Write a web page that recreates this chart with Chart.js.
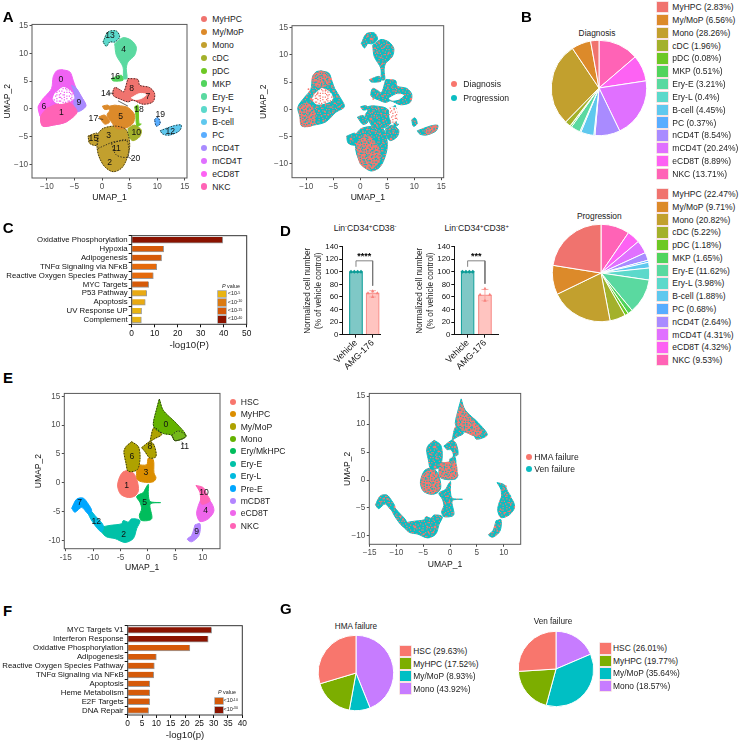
<!DOCTYPE html>
<html>
<head>
<meta charset="utf-8">
<script src="https://cdn.jsdelivr.net/npm/chart.js@4"></script>
<style>
  html, body { margin: 0; padding: 0; background: #fff; }
  #page { position: relative; width: 739px; height: 740px; overflow: hidden; font-family: "Liberation Sans", Arial, sans-serif; }
  #page canvas { position: absolute; }
  .t { position: absolute; white-space: nowrap; line-height: 1; color: #222; z-index: 3; }
  .t sup { font-size: 68%; line-height: 0; vertical-align: baseline; position: relative; top: -0.4em; }
  .sw { position: absolute; z-index: 3; }
</style>
</head>
<body>
<div id="page"></div>
<script>
// ---- labels and colours
const cellTypes14 = ['MyHPC', 'My/MoP', 'Mono', 'cDC', 'pDC', 'MKP', 'Ery-E', 'Ery-L', 'B-cell', 'PC', 'nCD4T', 'mCD4T', 'eCD8T', 'NKC']
const colors14 = ['#F0736E', '#DC8A2A', '#C2A02E', '#A3B12B', '#6DC824', '#52D45D', '#5AD9A0', '#5CD9CB', '#5FC8EE', '#59ADFF', '#A98BFF', '#E070FF', '#FD62F3', '#FF63B6']
const cellTypes11 = ['HSC', 'MyHPC', 'My/MoP', 'Mono', 'Ery/MkHPC', 'Ery-E', 'Ery-L', 'Pre-E', 'mCD8T', 'eCD8T', 'NKC']
const colors11 = ['#F8766D', '#DB8E00', '#AEA200', '#64B200', '#00BD5C', '#00C1A7', '#00BADE', '#00A6FF', '#B385FF', '#EF67EB', '#FF63B6']
const salmon = '#F8766D'
const teal = '#0CBDC2'

// ---- pies
const diagnosisPct = [2.83, 6.56, 28.26, 1.96, 0.08, 0.51, 3.21, 0.4, 4.45, 0.37, 8.54, 20.24, 8.89, 13.71]
const progressionPct = [22.47, 9.71, 20.82, 5.22, 1.18, 1.65, 11.62, 3.98, 1.88, 0.68, 2.64, 4.31, 4.32, 9.53]
const failureTypes = ['HSC', 'MyHPC', 'My/MoP', 'Mono']
const failureColors = ['#F8766D', '#7CAE00', '#00BFC4', '#C77CFF']
const hmaPct = [29.63, 17.52, 8.93, 43.92]
const venPct = [26.01, 19.77, 35.64, 18.57]

// ---- enrichment bars
const pathwaysC = ['Oxidative Phosphorylation', 'Hypoxia', 'Adipogenesis', 'TNFα Signaling via NFκB', 'Reactive Oxygen Species Pathway', 'MYC Targets', 'P53 Pathway', 'Apoptosis', 'UV Response UP', 'Complement']
const valuesC = [39.6, 13.9, 13, 10.9, 9.4, 7.4, 6.5, 5.9, 4.3, 4.2]
const colorsC = ['#8B1300', '#D55A0A', '#D55A0A', '#E56A0C', '#E56A0C', '#D55A0A', '#E8AA14', '#E8AA14', '#E8B414', '#E8B414']
const pathwaysF = ['MYC Targets V1', 'Interferon Response', 'Oxidative Phosphorylation', 'Adipogenesis', 'Reactive Oxygen Species Pathway', 'TNFα Signaling via NFκB', 'Apoptosis', 'Heme Metabolism', 'E2F Targets', 'DNA Repair']
const valuesF = [29.3, 28.1, 21.7, 10, 9.3, 9.1, 7.7, 7.7, 7.7, 7.3]
const colorsF = ['#8B1300', '#8B1300', '#D55A0A', '#D55A0A', '#D55A0A', '#D55A0A', '#D55A0A', '#D55A0A', '#D55A0A', '#D55A0A']
const ticksC = [0, 10, 20, 30, 40, 50]
const ticksF = [0, 5, 10, 15, 20, 25, 30, 35, 40]

// ---- cell number bars
const treatments = ['Vehicle', 'AMG-176']
const ticksD = [0, 20, 40, 60, 80, 100, 120, 140]
const barsLeft = [100, 66.5]
const barsRight = [100, 63.5]
const vehiclePts = [[-0.3, 100], [-0.1, 100], [0.1, 100], [0.3, 100]]
const amgPtsLeft = [[1, 69], [0.72, 66], [1.28, 66], [1, 60]]
const amgPtsRight = [[1, 73], [0.72, 63.5], [1.28, 63.5], [1, 54]]
const errLeft = [60, 70]
const errRight = [54, 72]

// ---- umap ticks
const umapTicks = [-10, -5, 0, 5, 10, 15]
const umapTicksE = [-15, -10, -5, 0, 5, 10]
const umapTicksEy = [-10, -5, 0, 5, 10, 15]

// ---- panel A outlines in UMAP units
const aTcell = [[-7.35, 7.07], [-5.84, 6.65], [-5.24, 5.15], [-4.76, 3.83], [-3.73, 2.16], [-2.95, 0.48], [-4.52, -0.54], [-6.45, -2.34], [-8.86, -2.93], [-10.78, -3.11], [-11.14, -1.44], [-11.57, 0.36], [-10.36, 2.16], [-9.16, 3.65], [-8.86, 5.75], [-8.25, 6.83]]
const aNk1 = [[-10.06, 0.06], [-7.95, 0.96], [-6.14, 1.26], [-4.52, -0.54], [-6.45, -2.34], [-8.86, -2.93], [-10.78, -3.11], [-11.14, -1.44]]
const aC9 = [[-5.54, 4.25], [-4.76, 3.83], [-3.73, 2.16], [-2.95, 0.48], [-4.52, -0.54], [-5.12, 0.96], [-4.94, 2.46]]
const aC6 = [[-11.57, 0.36], [-10.36, 2.16], [-9.16, 1.56], [-10.06, 0.06], [-11.14, -1.44]]
const aHole = [[-8.55, 2.75], [-7.05, 3.83], [-5.54, 3.05], [-5.12, 1.86], [-6.14, 1.26], [-7.95, 0.96], [-8.86, 1.68]]
const aRed = [[4.7, 5.45], [6.51, 5.27], [6.81, 4.25], [8.61, 3.83], [9.52, 2.75], [9.22, 1.26], [7.41, 0.84], [5.6, 1.56], [4.7, 1.26], [3.49, 1.68], [1.99, 2.46], [2.29, 3.83], [3.19, 3.47], [3.92, 3.05]]
const aRedGap = [[5.3, 1.98], [6.81, 2.75], [8.01, 2.57], [7.11, 1.86], [5.9, 1.68]]
const aC5 = [[2.29, 0.66], [4.4, 0.36], [5.3, -0.24], [5.9, -1.14], [5.6, -2.63], [4.1, -3.53], [2.59, -3.53], [1.69, -2.34], [0.9, -1.14], [1.39, -0.24], [1.08, 0.36]]
const aC17 = [[-0.54, -1.44], [0.48, -1.14], [1.39, -2.34], [0.48, -2.75]]
const aBit = [[0.06, 0.48], [1.08, 0.66], [1.39, 0.06], [0.48, -0.12]]
const aMono = [[-0.72, -4.43], [0.18, -3.53], [2.29, -3.11], [4.1, -3.53], [4.7, -4.43], [5, -6.83], [4.4, -9.22], [3.49, -10.72], [1.99, -11.32], [0.48, -10.42], [-0.54, -8.62], [-0.9, -6.83]]
const aC15 = [[-2.53, -4.91], [-0.9, -4.43], [-0.9, -6.53], [-2.23, -6.23]]
const aC10 = [[4.7, -3.53], [5.9, -2.93], [7.11, -3.83], [6.81, -5.03], [5.6, -5.75], [4.88, -5.03]]
const aC4 = [[2.29, 11.74], [3.8, 12.81], [5.3, 12.34], [6.2, 11.14], [5.9, 9.64], [4.7, 8.44], [4.4, 7.25], [4.52, 5.45], [3.92, 5.45], [3.8, 7.54], [2.59, 9.64]]
const aC13 = [[0.18, 12.04], [1.08, 13.83], [2.59, 14.01], [3.19, 12.93], [2.29, 12.04], [1.39, 12.04], [0.78, 11.26]]
const aC16 = [[1.69, 5.45], [3.49, 6.05], [3.8, 5.15], [1.99, 5.03]]
const aC18 = [[5.9, 0.36], [6.51, 0.66], [6.69, -2.63], [7.11, -2.75], [6.33, -3.11], [6.08, -0.54]]
const aC12 = [[10.54, -3.95], [12.83, -3.11], [14.34, -2.93], [14.04, -3.95], [12.23, -4.73], [11.02, -4.55]]
const aC19 = [[9.52, -1.92], [10.12, -1.56], [10.54, -2.63], [9.82, -3.11]]
const aC11 = [[1.69, -6.23], [4.4, -5.63], [4.7, -8.62], [2.59, -8.32]]
const aSplit = [[-0.72, -7.13], [1.99, -5.93], [4.7, -5.63]]
const aSplitRed = [[2.89, 1.44], [4.7, 0.48]]
const aLead14 = [[1.0, 2.81], [2.1, 2.81]]
const aLead17 = [[-0.7, -1.74], [0.2, -1.92]]
const aLead20 = [[4.7, -8.62], [5.3, -9.04]]
const aLabels = [['0', -7.47, 5.33], ['1', -7.35, -0.66], ['6', -10.54, 0.48], ['9', -4.22, 1.2], ['13', 1.45, 13.1], ['4', 3.92, 10.66], ['16', 2.41, 5.75], ['8', 5.36, 3.71], ['7', 8.31, 2.28], ['14', 0.66, 2.81], ['18', 6.69, -0.18], ['5', 3.37, -1.32], ['17', -1.57, -1.74], ['19', 10.54, -1.02], ['12', 12.35, -4.19], ['10', 6.2, -4.31], ['3', 1.2, -4.85], ['15', -1.57, -5.33], ['11', 2.59, -7.25], ['20', 6.08, -9.04], ['2', 1.39, -9.7]]

// panel A right: where one condition dominates
const progPatchTop = [[-7.16, 7.03], [-5.93, 6.3], [-5.62, 4.89], [-7.47, 4.04], [-8.83, 4.77], [-8.7, 6.3]]
const progPatchLow = [[-11.3, 0.49], [-9.63, 1.1], [-8.4, -0.73], [-8.7, -2.87], [-10.86, -3.06], [-11.17, -1.35]]
const progPatchMono = [[-0.68, -6.24], [1.17, -4.71], [3.33, -6.85], [3.64, -9.3], [1.79, -11], [-0.06, -9.91]]
const progPatchB = [[11.9, -3.9], [13.2, -3.1], [14.2, -3.1], [13.9, -3.9], [12.3, -4.6]]
const progGap = [[5.5, 0.4], [6.6, 0.2], [6.8, -2], [5.9, -2.5], [5.4, -1]]
const progSalmon = [[-9.4, 3.2], [-8.6, 2.9], [-9.9, 2.2], [-8.9, 1.6], [-7.3, 0.6], [-6.4, 0.9], [-5.6, 0.4], [-4.8, 1.1], [-4.3, 2.3], [-4.9, 3.3], [-5.3, 4.3], [-6.6, -0.4], [-7.2, -1.2], [-5.9, -1.0], [-6.8, -2.1], [-7.7, -0.3], [-3.9, 0.5], [-7.9, 2.9], [-6.4, 3.5], [-8.1, 0.4], [-5.1, -0.6], [-9.6, 3.7], [2.2, -0.6], [3.1, -1.6], [3.9, -0.8], [2.7, -2.6], [4.3, -2.1], [3.4, 0.1], [1.8, -1.7], [4.8, -1.3], [3.1, -3.0], [5.1, 3.9], [6.6, 3.3], [4.2, 2.4], [7.1, 4.0], [3.2, 2.7], [2.4, 1.9], [2.6, -1.1], [3.6, -2.5], [4.6, -0.3], [0.5, -4.2], [2.1, -3.9], [3.6, -4.6], [4.2, -6.1], [4.0, -7.6], [4.3, -8.9], [3.4, -5.2], [-0.1, -5.1], [1.3, -3.7], [2.9, -4.1], [3.1, 10.5], [3.8, 9.5], [4.4, 11.4], [2.7, 11.2], [5.2, 10.3], [2.3, 12.9], [4.1, 8.4], [4.9, 11.9], [3.5, 12.1], [1.4, 13.4], [6.1, -4.3], [5.5, -3.6], [10.1, -2.2]]
const progTeal = [[-7.9, 5.9], [-6.8, 5.3], [-6.1, 5.6], [-7.2, 4.5], [-8.4, 4.9], [-7.1, 6.2], [-6.5, 4.7], [-10.4, -0.9], [-9.7, 0.1], [-10.1, -2.2], [-9.1, -1.5], [-8.9, -0.2], [-9.5, -2.6], [-10.8, -0.2], [-10.3, -1.6], [-9.4, -0.7], [-8.8, -2.3], [0.4, -7.1], [1.5, -6.1], [2.3, -7.6], [1.1, -8.6], [2.8, -9.1], [0.7, -9.3], [1.9, -10.1], [2.4, -5.5], [0.2, -6.1], [3, -7.8], [1.4, -7.4], [0.2, -8.1], [2.1, -8.7], [2.9, -6.4], [1.2, -5.2], [1.7, -9.4], [0.9, -10.1]]

// ---- panel E outlines
const eC1 = [[-3.89, 2.11], [-2.68, 1.71], [-1.95, 0.28], [-1.76, -1.42], [-2.37, -2.28], [-3.59, -2.56], [-4.99, -1.99], [-5.54, -0.57], [-5.23, 0.85], [-4.62, 1.82]]
const eC3 = [[-1.95, 3.13], [-0.24, 3.13], [0.06, 4.27], [0.97, 3.98], [1.09, 1.71], [1.46, 0.85], [0.97, 0.17], [-0.85, 0.11], [-1.95, 0.57], [-2.07, 2.0]]
const eC6 = [[-2.98, 7.11], [-1.76, 6.26], [-1.46, 4.27], [-1.95, 2.28], [-3.59, 1.99], [-4.01, 3.41], [-4.38, 5.41], [-4.01, 6.26]]
const eC8 = [[-1.16, 6.09], [0.36, 7.11], [1.09, 6.55], [1.46, 4.55], [0.36, 4.27], [-0.55, 5.41]]
const eBridge = [[0.36, 7.11], [1.09, 9.56], [2.49, 8.37], [1.28, 7.68]]
const eC0 = [[2.07, 14.51], [2.8, 12.52], [5.23, 10.25], [6.93, 8.08], [4.93, 7.29], [4.32, 8.25], [2.8, 8.54], [1.28, 9.39], [0.97, 10.25], [1.58, 12.81]]
const eC11 = [[4.32, 8.25], [5.54, 8.99], [6.93, 8.08], [4.93, 7.29]]
const eC5 = [[-0.85, -1.71], [-2.07, -2.39], [-1.46, -3.41], [-1.16, -4.55], [-1.58, -5.69], [-1.16, -6.55], [0.67, -6.26], [0.4, -3.7], [2.31, -3.45], [0.4, -3.25], [0.06, -1.99], [0.06, -0.28]]
const eC2 = [[-8.46, -7.68], [-6.93, -7.4], [-4.81, -7.11], [-4.5, -6.55], [-3.59, -6.83], [-2.98, -6.26], [-1.46, -6.55], [-2.07, -7.97], [-2.68, -9.68], [-4.2, -10.36], [-6.02, -9.68], [-7.54, -9.39], [-8.46, -8.54]]
const eC12 = [[-10.89, -4.27], [-9.67, -5.69], [-8.15, -7.4], [-8.46, -8.54], [-9.67, -7.4], [-10.89, -5.41]]
const eC7 = [[-13.93, -4.44], [-13.02, -2.85], [-11.8, -2.68], [-10.89, -3.7], [-10.28, -4.84], [-10.89, -5.41], [-12.1, -4.27], [-13.32, -5.12]]
const eC10 = [[8.76, -0.46], [10.1, -0.85], [10.71, -1.99], [11.31, -3.13], [9.79, -3.7], [9.49, -1.71]]
const eC4 = [[9.79, -2.56], [11.31, -3.13], [12.04, -4.84], [11.01, -6.26], [9.49, -6.72], [8.88, -5.41], [9.18, -3.98]]
const eC9 = [[8.58, -7.29], [9.49, -7.11], [9.31, -9.11], [7.97, -10.24], [7.18, -9.79], [7.97, -9.11]]
const eLead11 = [[6.14, 7.11], [6.57, 6.66]]
const eLabels = [['0', 3.28, 10.13], ['8', 0.36, 6.26], ['6', -2.92, 4.55], ['3', -0.36, 1.71], ['1', -3.89, -0.57], ['5', -0.61, -3.53], ['7', -12.47, -3.41], ['12', -9.43, -6.66], ['2', -4.44, -8.94], ['10', 10.22, -1.65], ['4', 10.52, -4.78], ['9', 8.88, -8.54], ['11', 6.69, 6.26]]

// panel E right
const failPatchTop = [[2.1, 13.5], [3.5, 11.4], [5.5, 9.3], [5.9, 8.4], [4.5, 7.9], [2.5, 8.9], [1.4, 9.9], [1.5, 12]]
const failPatchHsc = [[-3.9, 1.9], [-2.8, 1.5], [-2.1, 0.2], [-1.9, -1.4], [-2.5, -2.1], [-3.6, -2.4], [-4.9, -1.9], [-5.4, -0.6], [-5.1, 0.8]]
const failPatchMid = [[-1.9, 3], [0.9, 3.1], [1.3, 0.9], [0.8, 0.3], [-0.8, 0.3], [-1.9, 0.7]]
const failGap = [[-1.1, 5.1], [0.1, 5.3], [0.4, 4.2], [-0.7, 3.8]]
const failTeal = [[2.4, 11.9], [3.1, 10.1], [4.1, 9.4], [1.9, 10.5], [3.6, 9], [2.7, 9.4], [-3.9, 0.6], [-3.1, -0.5], [-4.3, -0.9], [-3.3, -1.6], [-2.6, 0.3], [-4.6, 0.2], [-2.7, -1.1], [-3.7, 1.2], [-1, 2.3], [0.4, 1.5], [-0.6, 1], [0.2, 2.5], [-1.4, 1.5]]
const failSalmon = [[-3.1, 5.9], [-2.6, 3.9], [-3.6, 4.6], [-2.2, 5.1], [0.4, 5.9], [0.9, 5], [-0.4, -2.9], [-0.9, -4.1], [-0.1, -3.8], [-12.3, -3.3], [-11.6, -3.4], [-12.9, -3.9], [-9.2, -6.5], [-8.8, -7.1], [-6.8, -8.2], [-5.7, -8.6], [-5, -9.7], [-4, -9.4], [-3.4, -8.5], [-4.2, -8.4], [-3.1, -9.3], [10.1, -1.6], [10.6, -2.6], [11.3, -4.3], [9.4, -5.2], [10.1, -5.9], [11.1, -5.6], [9.2, -8.3], [8.8, -9.1], [10.4, -1.1]]

// speckle tiles for the mixed umaps, # is the other colour
const tileSparse = ['..#....#...##...', '.....#.......#..', '.##.....#..#....', '......#........#', '#...#....##.....', '...#...#.....#..', '.#.......#..#...', '....##.......#.#', '#.......#.#.....', '..#..#.......##.', '.......#..#.....', '.#.#.......#...#', '......##.#......', '#...#.......#...', '..#.....#.....#.', '.....#.....##...']
const tileDense = ['.#...#..#....#..', '...#.....#.#....', '#.....##.....#.#', '..#.#.....#.....', '......#.#...#.#.', '.#..#.......#...', '...#...#..#.....', '#.....#....#..#.', '..#.#....#....#.', '.....#.#....#...', '.#.......#.#...#', '...#.#.#.....#..', '#.......#.#.....', '..##.....#...#.#', '.....#.#....#...', '#..#.....#.....#']

// ---- helpers
Chart.defaults.animation = false
Chart.defaults.responsive = false
Chart.defaults.events = []
Chart.defaults.font.family = '"Liberation Sans", Arial, sans-serif'
Chart.defaults.plugins.legend.display = false
Chart.defaults.plugins.tooltip.enabled = false

const page = document.getElementById('page')

const makeTile = (rows, base, other, cell = 1.25) => {
  const c = document.createElement('canvas')
  c.width = c.height = rows.length * cell
  const g = c.getContext('2d')
  g.fillStyle = base
  g.fillRect(0, 0, c.width, c.height)
  g.fillStyle = other
  rows.forEach((row, j) => {
    [...row].forEach((ch, i) => { if (ch === '#') g.fillRect(i * cell, j * cell, cell, cell) })
  })
  return g.createPattern(c, 'repeat')
}
const mixTeal = makeTile(tileSparse, teal, salmon)
const mixSalmon = makeTile(tileDense, salmon, teal)
const holePink = makeTile(tileDense, '#FFFFFF', '#F062F3')
const holeSalmon = makeTile(tileDense, '#FFFFFF', salmon)

const addText = (html, x, y, o = {}) => {
  const el = document.createElement('div')
  el.className = 't'
  el.innerHTML = html
  const shift = o.align === 'center' ? '-50%' : '0'
  el.style.cssText = `left:${x}px;top:${y}px;font-size:${o.size || 8.6}px;transform:translate(${shift},-50%);` +
    `color:${o.color || '#222'};font-weight:${o.weight || 'normal'};font-style:${o.italic ? 'italic' : 'normal'}`
  page.appendChild(el)
}

const addDot = (x, y, color, r = 3.2) => {
  const el = document.createElement('div')
  el.className = 'sw'
  el.style.cssText = `left:${x - r}px;top:${y - r}px;width:${2 * r}px;height:${2 * r}px;border-radius:50%;background:${color}`
  page.appendChild(el)
}

const addSquare = (x, y, w, h, color, border) => {
  const el = document.createElement('div')
  el.className = 'sw'
  el.style.cssText = `left:${x}px;top:${y - h / 2}px;width:${w}px;height:${h}px;background:${color};` +
    (border ? `box-shadow:0 0 0 0.7px ${border}` : '')
  page.appendChild(el)
}

// canvas around a plot box so the chart area lands on the frame
const makeChart = (plot, m, config) => {
  const left = Math.floor(plot.l - m.l)
  const top = Math.floor(plot.t - m.t)
  const width = Math.ceil(plot.r + m.r) - left
  const height = Math.ceil(plot.b + m.b) - top
  const canvas = document.createElement('canvas')
  canvas.width = width
  canvas.height = height
  canvas.style.left = left + 'px'
  canvas.style.top = top + 'px'
  page.appendChild(canvas)
  config.options.layout = { padding: { top: plot.t - top, right: left + width - plot.r, left: 0, bottom: 0 } }
  config.options.scales.x.afterFit = (s) => { s.height = top + height - plot.b }
  config.options.scales.y.afterFit = (s) => { s.width = plot.l - left }
  return new Chart(canvas, config)
}

const framePlugin = (color, lw = 1) => ({
  id: 'frame',
  afterDatasetsDraw(chart) {
    const { ctx, chartArea: a } = chart
    ctx.save()
    ctx.strokeStyle = color
    ctx.lineWidth = lw
    ctx.strokeRect(a.left, a.top, a.right - a.left, a.bottom - a.top)
    ctx.restore()
  },
})

const labelPlugin = (items, font = '8.6px "Liberation Sans"', color = '#111') => ({
  id: 'labels',
  afterDatasetsDraw(chart) {
    const { ctx, scales } = chart
    ctx.save()
    ctx.font = font
    ctx.fillStyle = color
    ctx.textAlign = 'center'
    ctx.textBaseline = 'middle'
    for (const [txt, x, y] of items) {
      ctx.fillText(txt, scales.x.getPixelForValue(x), scales.y.getPixelForValue(y))
    }
    ctx.restore()
  },
})

const pts = (list) => list.map(([x, y]) => ({ x, y }))

const poly = (list, color) => ({
  data: pts(list.concat([list[0]])),
  showLine: true,
  fill: 'shape',
  backgroundColor: color,
  borderColor: color,
  borderWidth: 1,
  pointRadius: 0,
  tension: 0.3,
})

const dotted = (list, close = true) => ({
  data: pts(close ? list.concat([list[0]]) : list),
  showLine: true,
  fill: false,
  borderColor: '#1a1a1a',
  borderWidth: 0.8,
  borderDash: [1.4, 1.4],
  pointRadius: 0,
  tension: close ? 0.3 : 0,
})

const plainLine = (list, color = '#222', lw = 0.7) => ({
  data: pts(list),
  showLine: true,
  fill: false,
  borderColor: color,
  borderWidth: lw,
  pointRadius: 0,
})

const specks = (list, color, r = 0.9) => ({
  data: pts(list),
  showLine: false,
  pointRadius: r,
  pointBackgroundColor: color,
  pointBorderWidth: 0,
})

const minusFmt = (hyphen) => (v) => (v < 0 ? (hyphen ? '-' : '\u2212') + Math.abs(v) : String(v))

const umap = (plot, m, xr, yr, xTicks, yTicks, hyphen, layers, plugins) => {
  const axis = (range, ticks, title) => ({
    type: 'linear',
    min: range[0],
    max: range[1],
    afterBuildTicks: (s) => { s.ticks = ticks.map((value) => ({ value })) },
    ticks: { autoSkip: false, maxRotation: 0, color: '#4d4d4d', font: { size: 8.2 }, padding: 1.5, callback: minusFmt(hyphen) },
    grid: { drawOnChartArea: false, drawTicks: true, tickLength: 2.5, color: '#4d4d4d' },
    border: { display: false },
    title: { display: true, text: title, color: '#111', font: { size: 8.6 }, padding: { top: 2, bottom: 2 } },
  })
  return makeChart(plot, m, {
    type: 'scatter',
    data: { datasets: layers.slice().reverse() },
    options: { scales: { x: axis(xr, xTicks, 'UMAP_1'), y: axis(yr, yTicks, 'UMAP_2') } },
    plugins: [framePlugin('#595959', 1), ...plugins],
  })
}

const pie = (cx, cy, r, values, colors) => {
  const size = 2 * Math.ceil(r) + 4
  const canvas = document.createElement('canvas')
  canvas.width = size
  canvas.height = size
  canvas.style.left = Math.round(cx - size / 2) + 'px'
  canvas.style.top = Math.round(cy - size / 2) + 'px'
  page.appendChild(canvas)
  return new Chart(canvas, {
    type: 'pie',
    data: {
      datasets: [{
        data: values.slice().reverse(),
        backgroundColor: colors.slice().reverse(),
        borderColor: '#fff',
        borderWidth: 1,
        radius: r,
      }],
    },
    options: { layout: { padding: 0 } },
  })
}

const hbars = (plot, labels, values, colors, xTicks, xMax, title) => makeChart(plot, { l: 127, t: 3, r: 7, b: 27 }, {
  type: 'bar',
  data: {
    labels,
    datasets: [{
      data: values,
      backgroundColor: colors,
      borderColor: 'rgba(130,130,130,0.8)',
      borderWidth: { right: 1, bottom: 1 },
      borderSkipped: false,
      barThickness: 6,
    }],
  },
  options: {
    indexAxis: 'y',
    scales: {
      x: {
        type: 'linear',
        min: 0,
        max: xMax,
        afterBuildTicks: (s) => { s.ticks = xTicks.map((value) => ({ value })) },
        ticks: { autoSkip: false, maxRotation: 0, color: '#111', font: { size: 8.4 }, padding: 1 },
        grid: { drawOnChartArea: false, tickLength: 3, color: '#111' },
        border: { display: false },
        title: { display: true, text: title, color: '#222', font: { size: 9.6 }, padding: { top: 3, bottom: 1 } },
      },
      y: {
        ticks: { autoSkip: false, color: '#111', font: { size: 7.8 }, padding: 1 },
        grid: { drawOnChartArea: false, tickLength: 3, color: '#111' },
        border: { display: false },
      },
    },
  },
  plugins: [framePlugin('#333', 1)],
})

const cellBars = (plot, bars, amgPts, err, bracketY, stars, starY, xMin, xMax, barW) => makeChart(plot, { l: 40, t: 4, r: 4, b: 38 }, {
  type: 'bar',
  data: {
    datasets: [
      { type: 'scatter', ...plainLine([[0, bracketY[0]], [0, bracketY[1]], [1, bracketY[1]], [1, bracketY[2]]], '#777', 0.9) },
      { type: 'scatter', ...specks(vehiclePts, '#0E9C97', 2), pointStyle: 'rectRot' },
      { type: 'scatter', ...specks(amgPts, '#F8837E', 2), pointStyle: 'triangle' },
      { type: 'scatter', ...plainLine([[1, err[0]], [1, err[1]]], '#F8A09C', 0.9) },
      { type: 'scatter', ...plainLine([[0.8, err[0]], [1.2, err[0]]], '#F8A09C', 0.9) },
      { type: 'scatter', ...plainLine([[0.8, err[1]], [1.2, err[1]]], '#F8A09C', 0.9) },
      {
        type: 'bar',
        data: bars.map((y, x) => ({ x, y })),
        backgroundColor: ['#7FC8C6', '#FFC4C0'],
        borderColor: ['#12A09B', '#F88E8A'],
        borderWidth: 1.2,
        barThickness: barW,
      },
    ],
  },
  options: {
    scales: {
      x: {
        type: 'linear',
        offset: false,
        min: xMin,
        max: xMax,
        afterBuildTicks: (s) => { s.ticks = [0, 1].map((value) => ({ value })) },
        ticks: { autoSkip: false, minRotation: 45, maxRotation: 45, color: '#111', font: { size: 8.9 }, padding: 0, callback: (v) => treatments[v] },
        grid: { offset: false, drawOnChartArea: false, tickLength: 3, color: '#111' },
        border: { color: '#111', width: 1 },
      },
      y: {
        type: 'linear',
        min: 0,
        max: 140,
        afterBuildTicks: (s) => { s.ticks = ticksD.map((value) => ({ value })) },
        ticks: { autoSkip: false, color: '#111', font: { size: 7.8 }, padding: 1 },
        grid: { drawOnChartArea: false, tickLength: 3, color: '#111' },
        border: { color: '#111', width: 1 },
        title: { display: true, text: ['Normalized cell number', '(% of vehicle control)'], color: '#222', font: { size: 8.2, lineHeight: 1.34 }, padding: { top: 0, bottom: 1 } },
      },
    },
  },
  plugins: [labelPlugin([[stars, 0.5, starY]], 'bold 9px "Liberation Sans"', '#000')],
})

// ---- panel A
const aLayers = [
  poly(aTcell, '#F062F3'), poly(aC6, '#FD62F3'), poly(aC9, '#A98BFF'), poly(aNk1, '#FF63B6'), poly(aHole, holePink),
  poly(aRed, '#F0736E'), poly(aRedGap, '#FFFFFF'),
  poly(aMono, '#C2A02E'), poly(aC15, '#C2A02E'), poly(aC10, '#A3B12B'),
  poly(aC5, '#DC8A2A'), poly(aC17, '#DC8A2A'), poly(aBit, '#DC8A2A'),
  poly(aC18, '#6DC824'), poly(aC16, '#52D45D'),
  poly(aC4, '#5AD9A0'), poly(aC13, '#5CD9CB'), poly(aC12, '#5FC8EE'), poly(aC19, '#59ADFF'),
  dotted(aMono), dotted(aC15), dotted(aRed), dotted(aC12), dotted(aC19), dotted(aC11), dotted(aSplit, false), dotted(aC13),
  plainLine(aSplitRed), plainLine(aLead14), plainLine(aLead17), plainLine(aLead20),
]
umap({ l: 32, r: 187, t: 24, b: 178 }, { l: 32, t: 6, r: 8, b: 27 }, [-12.7, 15.4], [-12.46, 15.2], umapTicks, umapTicks, false, aLayers, [labelPlugin(aLabels)])

const progressionBase = [aTcell, aRed, aMono, aC15, aC10, aC5, aC17, aBit, aC18, aC16, aC4, aC13, aC12, aC19].map((p) => poly(p, mixTeal))
umap({ l: 292, r: 443.7, t: 25.7, b: 177.7 }, { l: 36, t: 6, r: 8, b: 27 }, [-12.65, 15.44], [-12.55, 15.34], umapTicks, umapTicks, false, [
  ...progressionBase,
  poly(aHole, holeSalmon), poly(aRedGap, '#FFFFFF'), poly(progGap, holeSalmon),
  poly(progPatchTop, mixSalmon), poly(progPatchLow, mixSalmon), poly(progPatchMono, mixSalmon), poly(progPatchB, mixSalmon),
  specks(progTeal, teal), specks(progSalmon, salmon),
], [])

cellTypes14.forEach((name, i) => {
  const y = 19.3 + i * 12.87
  addDot(204.3, y, colors14[i])
  addText(name, 212.3, y)
})
addDot(454.3, 84.3, salmon)
addText('Diagnosis', 463.3, 84.3)
addDot(454.3, 97.7, teal)
addText('Progression', 463.3, 97.7)

// ---- panel B
addText('Diagnosis', 597, 32.7, { align: 'center', size: 8.4 })
pie(599, 88, 47.7, diagnosisPct, colors14)
addText('Progression', 599.3, 216, { align: 'center', size: 8.4 })
pie(601, 273, 48.7, progressionPct, colors14)
cellTypes14.forEach((name, i) => {
  const y1 = 7.2 + i * 12.82
  addSquare(657.3, y1, 10.5, 10.5, colors14[i], '#f4d9d9')
  addText(`${name} (${diagnosisPct[i]}%)`, 672.3, y1, { size: 8.5 })
  const y2 = 194 + i * 12.78
  addSquare(657.3, y2, 10.5, 10.5, colors14[i], '#f4d9d9')
  addText(`${name} (${progressionPct[i]}%)`, 672.3, y2, { size: 8.5 })
})

// ---- panel C
hbars({ l: 131.7, r: 246.7, t: 233.7, b: 324.3 }, pathwaysC, valuesC, colorsC, ticksC, 50, '-log10(P)')
addText('<i>P</i> value', 222, 287, { size: 5.4 })
const legendC = [['#E8B414', '-5'], ['#DB7A12', '-10'], ['#D55A0A', '-15'], ['#8B1300', '-40']]
legendC.forEach(([color, exp], i) => {
  const y = 294.3 + i * 8.35
  addSquare(218.3, y, 8.2, 6.4, color, '#999')
  addText(`&lt;10<sup>${exp}</sup>`, 227.8, y, { size: 5.4 })
})

// ---- panel D
addText('Lin<sup>-</sup>CD34<sup>+</sup>CD38<sup>-</sup>', 365, 227.7, { align: 'center', size: 8.6 })
addText('Lin<sup>-</sup>CD34<sup>+</sup>CD38<sup>+</sup>', 476.7, 227.7, { align: 'center', size: 8.6 })
cellBars({ l: 342.3, r: 380, t: 245.7, b: 334.7 }, barsLeft, amgPtsLeft, errLeft, [108, 117.5, 78], '****', 125, -0.82, 1.44, 13.2)
cellBars({ l: 454.3, r: 498.3, t: 245.7, b: 334.7 }, barsRight, amgPtsRight, errRight, [108, 117.5, 81], '***', 125, -0.77, 1.77, 13.2)

// ---- panel E
const eLayers = [
  poly(eC1, colors11[0]), poly(eC3, colors11[1]),
  poly(eC6, colors11[2]), poly(eC8, colors11[2]), poly(eBridge, colors11[2]),
  poly(eC0, colors11[3]), poly(eC11, '#74B81A'),
  poly(eC5, colors11[4]), poly(eC2, colors11[5]), poly(eC12, colors11[6]), poly(eC7, colors11[7]),
  poly(eC9, colors11[8]), poly(eC4, colors11[9]), poly(eC10, colors11[10]),
  dotted(eC0), dotted(eC6), dotted(eC8), dotted(eBridge), dotted(eC11),
  plainLine(eLead11),
]
umap({ l: 64.3, r: 220, t: 391, b: 548.7 }, { l: 33, t: 4, r: 8, b: 26 }, [-15.27, 13.14], [-11.44, 15.49], umapTicksE, umapTicksEy, true, eLayers, [labelPlugin(eLabels)])

const failureBase = [eC1, eC3, eC6, eC8, eBridge, eC0, eC5, eC2, eC12, eC7, eC9, eC4, eC10].map((p) => poly(p, mixTeal))
umap({ l: 369.3, r: 520.7, t: 391, b: 544.3 }, { l: 29, t: 4, r: 6, b: 27 }, [-15.07, 13.17], [-11.5, 15.49], umapTicksE, umapTicksEy, false, [
  ...failureBase,
  poly(failPatchTop, mixSalmon), poly(failPatchHsc, mixSalmon), poly(failPatchMid, mixSalmon), poly(failGap, '#FFFFFF'),
  specks(failTeal, teal), specks(failSalmon, salmon),
], [])

cellTypes11.forEach((name, i) => {
  const y = 401.7 + i * 12.4
  addDot(233.3, y, colors11[i])
  addText(name, 240.7, y)
})
addDot(529, 457.3, salmon)
addText('HMA failure', 534.3, 457.3)
addDot(529, 468.7, teal)
addText('Ven failure', 534.3, 468.7)

// ---- panel F
hbars({ l: 127.7, r: 242.3, t: 623.7, b: 715 }, pathwaysF, valuesF, colorsF, ticksF, 40, '-log10(p)')
addText('<i>P</i> value', 218, 693.3, { size: 5.4 })
const legendF = [['#D55A0A', '-10'], ['#8B1300', '-30']]
legendF.forEach(([color, exp], i) => {
  const y = 701.3 + i * 8.4
  addSquare(215, y, 7.8, 6.4, color, '#999')
  addText(`&lt;10<sup>${exp}</sup>`, 223.5, y, { size: 5.4 })
})

// ---- panel G
addText('HMA failure', 356, 626.7, { align: 'center', size: 8.2 })
pie(356, 673, 37.7, hmaPct, failureColors)
addText('Ven failure', 553, 622, { align: 'center', size: 8.2 })
pie(556, 669, 37.7, venPct, failureColors)
failureTypes.forEach((name, i) => {
  const y1 = 651 + i * 12.55
  addSquare(400.3, y1, 10.5, 10.5, failureColors[i], '#f4d9d9')
  addText(`${name} (${hmaPct[i]}%)`, 413.3, y1, { size: 8.4 })
  const y2 = 648.3 + i * 12.5
  addSquare(600.3, y2, 10.5, 10.5, failureColors[i], '#f4d9d9')
  addText(`${name} (${venPct[i]}%)`, 613, y2, { size: 8.4 })
})

// ---- panel letters
const panelLetters = [['A', 2.7, 16.4], ['B', 521, 16], ['C', 2.7, 227.4], ['D', 280, 230.4], ['E', 3, 377], ['F', 3, 609.5], ['G', 280, 607.7]]
panelLetters.forEach(([l, x, y]) => addText(l, x, y, { size: 15, weight: 'bold', color: '#000' }))
</script>
</body>
</html>
